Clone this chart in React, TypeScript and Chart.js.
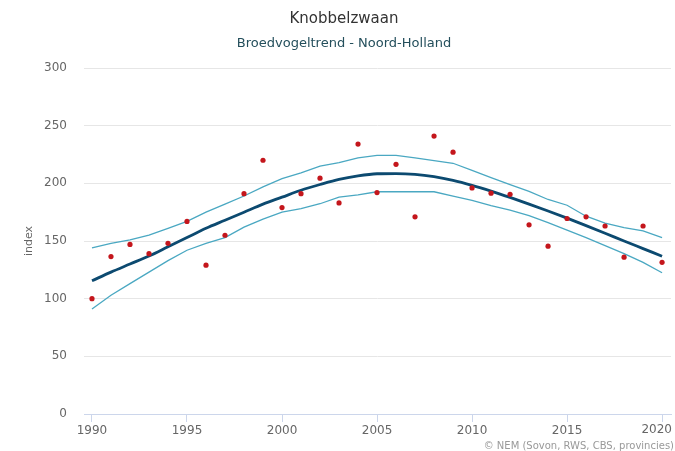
import React, { useEffect, useRef } from "react";
import { Chart, registerables } from "chart.js";

Chart.register(...registerables);

const years: number[] = [
  1990, 1991, 1992, 1993, 1994, 1995, 1996, 1997, 1998, 1999, 2000,
  2001, 2002, 2003, 2004, 2005, 2006, 2007, 2008, 2009, 2010,
  2011, 2012, 2013, 2014, 2015, 2016, 2017, 2018, 2019, 2020,
];

const indexValues: number[] = [
  100, 136.5, 147, 139, 148, 167, 129, 155, 191, 220, 179,
  191, 204.5, 183, 234, 192, 216.5, 171, 241, 227, 196,
  191.5, 190.5, 164, 145.5, 169.5, 171, 163, 136, 163, 131.5,
];

const trendValues: number[] = [
  115.5, 123, 130, 137, 145, 153, 161, 168, 175, 182, 188,
  194, 199, 203.5, 206.5, 208.3, 208.5, 207.8, 205.8, 202.6, 198.3,
  193.3, 187.8, 182, 176, 169.8, 163.3, 156.7, 150, 143.4, 136.8,
];

const upperValues: number[] = [
  144, 148, 151, 155, 161, 167, 175, 182, 189, 197, 204,
  209, 215, 218, 222, 224.3, 224.3, 222, 219.7, 217.4, 211.3,
  205, 198.8, 193, 186, 181, 171.5, 165.5, 161.5, 158.8, 153,
];

const lowerValues: number[] = [
  91, 103, 113, 123, 133, 142, 148, 153, 162, 169, 175,
  178, 182.3, 188, 190, 192.7, 192.7, 192.7, 192.7, 189, 185.2,
  180.6, 176.8, 172, 166, 159.5, 153, 146, 139, 131.5, 122.5,
];

const xTicks: number[] = [1990, 1995, 2000, 2005, 2010, 2015, 2020];
const yTicks: number[] = [0, 50, 100, 150, 200, 250, 300];

const titleText = "Knobbelzwaan";
const subtitleText = "Broedvogeltrend - Noord-Holland";
const yTitleText = "index";
const creditsText = "© NEM (Sovon, RWS, CBS, provincies)";

const FONT = "'DejaVu Sans', Verdana, sans-serif";
const lastTick = xTicks[xTicks.length - 1];

const textPlugin = {
  id: "textPlugin",
  afterDraw(chart: any) {
    const ctx = chart.ctx;
    const area = chart.chartArea;
    ctx.save();
    ctx.textAlign = "center";
    ctx.textBaseline = "alphabetic";
    ctx.fillStyle = "#333333";
    ctx.font = `15px ${FONT}`;
    ctx.fillText(titleText, 344, 23);
    ctx.fillStyle = "#244f5c";
    ctx.font = `13px ${FONT}`;
    ctx.fillText(subtitleText, 344, 47);
    // last x label, shifted inside like the original
    ctx.textAlign = "right";
    ctx.textBaseline = "top";
    ctx.fillStyle = "#666666";
    ctx.font = `12px ${FONT}`;
    ctx.fillText(String(lastTick), 672, area.bottom + 10);
    // y axis title
    ctx.save();
    ctx.textAlign = "center";
    ctx.textBaseline = "alphabetic";
    ctx.translate(32, (area.top + area.bottom) / 2);
    ctx.rotate(-Math.PI / 2);
    ctx.fillStyle = "#666666";
    ctx.font = `11px ${FONT}`;
    ctx.fillText(yTitleText, 0, 0);
    ctx.restore();
    // credits
    ctx.textAlign = "right";
    ctx.textBaseline = "alphabetic";
    ctx.fillStyle = "#999999";
    ctx.font = `10px ${FONT}`;
    ctx.fillText(creditsText, 674, 449);
    ctx.restore();
  },
};

export default function App() {
  const canvasRef = useRef<HTMLCanvasElement | null>(null);

  useEffect(() => {
    document.body.style.margin = "0";
    const canvas = canvasRef.current;
    if (!canvas) return;
    const toPts = (vals: number[]) => years.map((x, i) => ({ x, y: vals[i] }));

    const chart = new Chart(canvas, {
      type: "line",
      data: {
        datasets: [
          {
            label: "Index",
            data: toPts(indexValues),
            showLine: false,
            pointRadius: 2.6,
            pointBackgroundColor: "#c4161c",
            pointBorderWidth: 0,
            borderColor: "#c4161c",
            order: 0,
          },
          {
            label: "Trend",
            data: toPts(trendValues),
            borderColor: "#0c4a70",
            borderWidth: 2.8,
            pointRadius: 0,
            cubicInterpolationMode: "monotone",
            fill: false,
            order: 1,
          },
          {
            label: "Upper",
            data: toPts(upperValues),
            borderColor: "#4aa8c2",
            borderWidth: 1.3,
            pointRadius: 0,
            tension: 0,
            fill: false,
            order: 2,
          },
          {
            label: "Lower",
            data: toPts(lowerValues),
            borderColor: "#4aa8c2",
            borderWidth: 1.3,
            pointRadius: 0,
            tension: 0,
            fill: false,
            order: 2,
          },
        ],
      },
      options: {
        animation: false,
        responsive: false,
        maintainAspectRatio: false,
        events: [],
        layout: { padding: { top: 68, right: 2, bottom: 0, left: 0 } },
        plugins: {
          legend: { display: false },
          tooltip: { enabled: false },
          title: { display: false },
        },
        scales: {
          x: {
            type: "linear",
            min: 1989.58,
            max: 2020.47,
            afterFit: (scale: any) => {
              scale.height = 37;
              scale.paddingLeft = 0;
              scale.paddingRight = 0;
            },
            afterBuildTicks: (scale: any) => {
              scale.ticks = xTicks.map((v) => ({ value: v }));
            },
            border: { display: true, color: "#ccd6eb", width: 1 },
            grid: {
              display: true,
              drawOnChartArea: false,
              drawTicks: true,
              tickLength: 8,
              color: "#ccd6eb",
            },
            ticks: {
              color: "#666666",
              font: { family: FONT, size: 12 },
              padding: 2,
              maxRotation: 0,
              autoSkip: false,
              callback: (v: any) => (v === lastTick ? "" : String(v)),
            },
          },
          y: {
            min: 0,
            max: 300,
            afterFit: (scale: any) => {
              scale.width = 84;
              scale.paddingTop = 0;
              scale.paddingBottom = 0;
            },
            afterBuildTicks: (scale: any) => {
              scale.ticks = yTicks.map((v) => ({ value: v }));
            },
            border: { display: false },
            grid: {
              color: "#e6e6e6",
              drawTicks: false,
            },
            ticks: {
              color: "#666666",
              font: { family: FONT, size: 12 },
              padding: 17,
            },
          },
        },
      },
      plugins: [textPlugin],
    } as any);

    return () => chart.destroy();
  }, []);

  return (
    <div style={{ position: "absolute", left: 0, top: 0, width: 675, height: 451, background: "#fff" }}>
      <canvas ref={canvasRef} width={675} height={451} style={{ display: "block" }} />
    </div>
  );
}
